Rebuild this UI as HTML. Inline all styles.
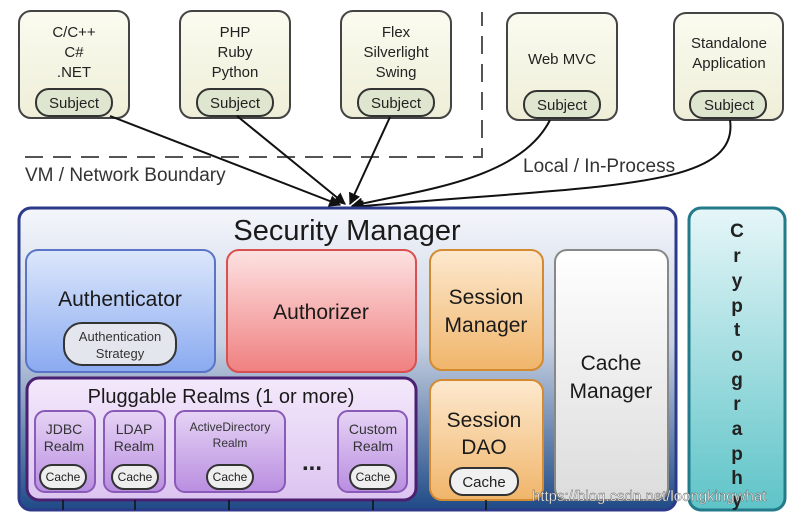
<!DOCTYPE html>
<html><head><meta charset="utf-8"><style>
html,body{margin:0;padding:0;background:#fff;}
svg{display:block;font-family:"Liberation Sans",Arial,sans-serif;}
</style></head><body>
<svg width="791" height="515" viewBox="0 0 791 515" xmlns="http://www.w3.org/2000/svg">
<defs>
<linearGradient id="sm" x1="0" y1="0" x2="0" y2="1">
<stop offset="0" stop-color="#f4f6fb"/><stop offset="0.45" stop-color="#c6d0e2"/><stop offset="1" stop-color="#1f4a86"/></linearGradient>
<linearGradient id="au" x1="0" y1="0" x2="0" y2="1"><stop offset="0" stop-color="#dce7fb"/><stop offset="1" stop-color="#8aaaf0"/></linearGradient>
<linearGradient id="az" x1="0" y1="0" x2="0" y2="1"><stop offset="0" stop-color="#fde2e2"/><stop offset="1" stop-color="#f08080"/></linearGradient>
<linearGradient id="or" x1="0" y1="0" x2="0" y2="1"><stop offset="0" stop-color="#fde9cf"/><stop offset="1" stop-color="#f0b56a"/></linearGradient>
<linearGradient id="cm" x1="0" y1="0" x2="0" y2="1"><stop offset="0" stop-color="#ffffff"/><stop offset="1" stop-color="#dcdcdc"/></linearGradient>
<linearGradient id="pr" x1="0" y1="0" x2="0" y2="1"><stop offset="0" stop-color="#f3e8fb"/><stop offset="1" stop-color="#dcc4f0"/></linearGradient>
<linearGradient id="rl" x1="0" y1="0" x2="0" y2="1"><stop offset="0" stop-color="#e6d3f5"/><stop offset="1" stop-color="#b98ee0"/></linearGradient>
<linearGradient id="cr" x1="0" y1="0" x2="0" y2="1"><stop offset="0" stop-color="#e6f6f8"/><stop offset="1" stop-color="#5ec4c8"/></linearGradient>
<linearGradient id="ap" x1="0" y1="0" x2="0" y2="1"><stop offset="0" stop-color="#fbfbf0"/><stop offset="1" stop-color="#eeeed8"/></linearGradient>
<marker id="ar" viewBox="0 0 10 10" refX="9" refY="5" markerWidth="6" markerHeight="6" orient="auto"><path d="M0,0L10,5L0,10z" fill="#111"/></marker>
</defs>

<!-- client boxes -->
<g stroke="#444" stroke-width="2" fill="url(#ap)">
<rect x="19" y="11" width="110" height="107" rx="12"/>
<rect x="180" y="11" width="110" height="107" rx="12"/>
<rect x="341" y="11" width="110" height="107" rx="12"/>
<rect x="507" y="13" width="110" height="107" rx="12"/>
<rect x="674" y="13" width="109" height="107" rx="12"/>
</g>
<g stroke="#333" stroke-width="2" fill="#dfe6cf">
<rect x="36" y="89" width="76" height="27" rx="13"/>
<rect x="197" y="89" width="76" height="27" rx="13"/>
<rect x="358" y="89" width="76" height="27" rx="13"/>
<rect x="524" y="91" width="76" height="27" rx="13"/>
<rect x="690" y="91" width="76" height="27" rx="13"/>
</g>
<g font-size="15" fill="#222" text-anchor="middle">
<text x="74" y="37">C/C++</text><text x="74" y="57">C#</text><text x="74" y="77">.NET</text>
<text x="235" y="37">PHP</text><text x="235" y="57">Ruby</text><text x="235" y="77">Python</text>
<text x="396" y="37">Flex</text><text x="396" y="57">Silverlight</text><text x="396" y="77">Swing</text>
<text x="562" y="64">Web MVC</text>
<text x="729" y="48">Standalone</text><text x="729" y="68">Application</text>
<text x="74" y="108">Subject</text><text x="235" y="108">Subject</text><text x="396" y="108">Subject</text>
<text x="562" y="110">Subject</text><text x="729" y="110">Subject</text>
</g>

<!-- boundary -->
<path d="M25,157 H482 V12" fill="none" stroke="#555" stroke-width="2" stroke-dasharray="18,10"/>
<text x="25" y="181" font-size="19" fill="#333">VM / Network Boundary</text>
<text x="523" y="172" font-size="19" fill="#333">Local / In-Process</text>

<!-- arrows -->
<g stroke="#111" stroke-width="2" fill="none" marker-end="url(#ar)">
<path d="M110,116 L340,205"/>
<path d="M237,116 L345,204"/>
<path d="M390,117 L350,204"/>
<path d="M550,120 C520,180 420,190 352,206"/>
<path d="M730,120 C740,190 600,185 353,207"/>
</g>

<!-- security manager -->
<rect x="19" y="208" width="657" height="302" rx="12" fill="url(#sm)" stroke="#2c3a8a" stroke-width="3"/>
<text x="347" y="240" font-size="29" text-anchor="middle" fill="#1a1a1a">Security Manager</text>

<rect x="26" y="250" width="189" height="122" rx="12" fill="url(#au)" stroke="#5a74c8" stroke-width="2"/>
<text x="120" y="306" font-size="21" text-anchor="middle" fill="#1a1a1a">Authenticator</text>
<rect x="64" y="323" width="112" height="42" rx="18" fill="#e4e6ee" stroke="#333" stroke-width="2"/>
<text x="120" y="341" font-size="13" text-anchor="middle" fill="#333">Authentication</text>
<text x="120" y="358" font-size="13" text-anchor="middle" fill="#333">Strategy</text>

<rect x="227" y="250" width="189" height="122" rx="12" fill="url(#az)" stroke="#d85050" stroke-width="2"/>
<text x="321" y="319" font-size="21" text-anchor="middle" fill="#1a1a1a">Authorizer</text>

<rect x="430" y="250" width="113" height="120" rx="12" fill="url(#or)" stroke="#d48a30" stroke-width="2"/>
<text x="486" y="304" font-size="21" text-anchor="middle" fill="#1a1a1a">Session</text>
<text x="486" y="332" font-size="21" text-anchor="middle" fill="#1a1a1a">Manager</text>

<rect x="430" y="380" width="113" height="120" rx="12" fill="url(#or)" stroke="#d48a30" stroke-width="2"/>
<text x="484" y="427" font-size="21" text-anchor="middle" fill="#1a1a1a">Session</text>
<text x="484" y="454" font-size="21" text-anchor="middle" fill="#1a1a1a">DAO</text>
<rect x="450" y="468" width="68" height="27" rx="13" fill="#f0f0f0" stroke="#333" stroke-width="2"/>
<text x="484" y="487" font-size="15" text-anchor="middle" fill="#222">Cache</text>

<rect x="555" y="250" width="113" height="250" rx="12" fill="url(#cm)" stroke="#888" stroke-width="2"/>
<text x="611" y="370" font-size="21" text-anchor="middle" fill="#1a1a1a">Cache</text>
<text x="611" y="398" font-size="21" text-anchor="middle" fill="#1a1a1a">Manager</text>

<rect x="27" y="378" width="389" height="122" rx="12" fill="url(#pr)" stroke="#4a2070" stroke-width="3"/>
<text x="221" y="403" font-size="20" text-anchor="middle" fill="#1a1a1a">Pluggable Realms (1 or more)</text>
<g fill="url(#rl)" stroke="#8a5ab8" stroke-width="2">
<rect x="35" y="411" width="60" height="81" rx="10"/>
<rect x="104" y="411" width="61" height="81" rx="10"/>
<rect x="175" y="411" width="110" height="81" rx="10"/>
<rect x="338" y="411" width="69" height="81" rx="10"/>
</g>
<g fill="#eeeeee" stroke="#333" stroke-width="2">
<rect x="40" y="465" width="46" height="24" rx="12"/>
<rect x="112" y="465" width="46" height="24" rx="12"/>
<rect x="207" y="465" width="46" height="24" rx="12"/>
<rect x="350" y="465" width="46" height="24" rx="12"/>
</g>
<g font-size="14" text-anchor="middle" fill="#333">
<text x="64" y="434">JDBC</text><text x="64" y="451">Realm</text>
<text x="134" y="434">LDAP</text><text x="134" y="451">Realm</text>
<text x="230" y="431" font-size="12">ActiveDirectory</text><text x="230" y="447" font-size="12">Realm</text>
<text x="373" y="434">Custom</text><text x="373" y="451">Realm</text>
</g>
<g font-size="12" text-anchor="middle" fill="#222">
<text x="63" y="481">Cache</text><text x="135" y="481">Cache</text><text x="230" y="481">Cache</text><text x="373" y="481">Cache</text>
</g>
<text x="312" y="470" font-size="24" text-anchor="middle" fill="#222" font-weight="bold">...</text>
<g stroke="#111" stroke-width="1.5">
<line x1="63" y1="500" x2="63" y2="510"/><line x1="135" y1="500" x2="135" y2="510"/>
<line x1="229" y1="500" x2="229" y2="510"/><line x1="373" y1="500" x2="373" y2="510"/>
<line x1="486" y1="500" x2="486" y2="510"/>
</g>

<!-- cryptography -->
<rect x="689" y="208" width="96" height="302" rx="12" fill="url(#cr)" stroke="#237a8a" stroke-width="3"/>
<g font-size="19" font-weight="bold" text-anchor="middle" fill="#222">
<text x="737" y="237">C</text><text x="737" y="262">r</text><text x="737" y="287">y</text>
<text x="737" y="312">p</text><text x="737" y="336">t</text><text x="737" y="361">o</text>
<text x="737" y="386">g</text><text x="737" y="410">r</text><text x="737" y="435">a</text>
<text x="737" y="460">p</text><text x="737" y="484">h</text><text x="737" y="506">y</text>
</g>
<text x="532" y="501" font-size="15" fill="#fff" stroke="#555" stroke-width="0.4">https://blog.csdn.net/loongkingwhat</text>
</svg>
</body></html>
